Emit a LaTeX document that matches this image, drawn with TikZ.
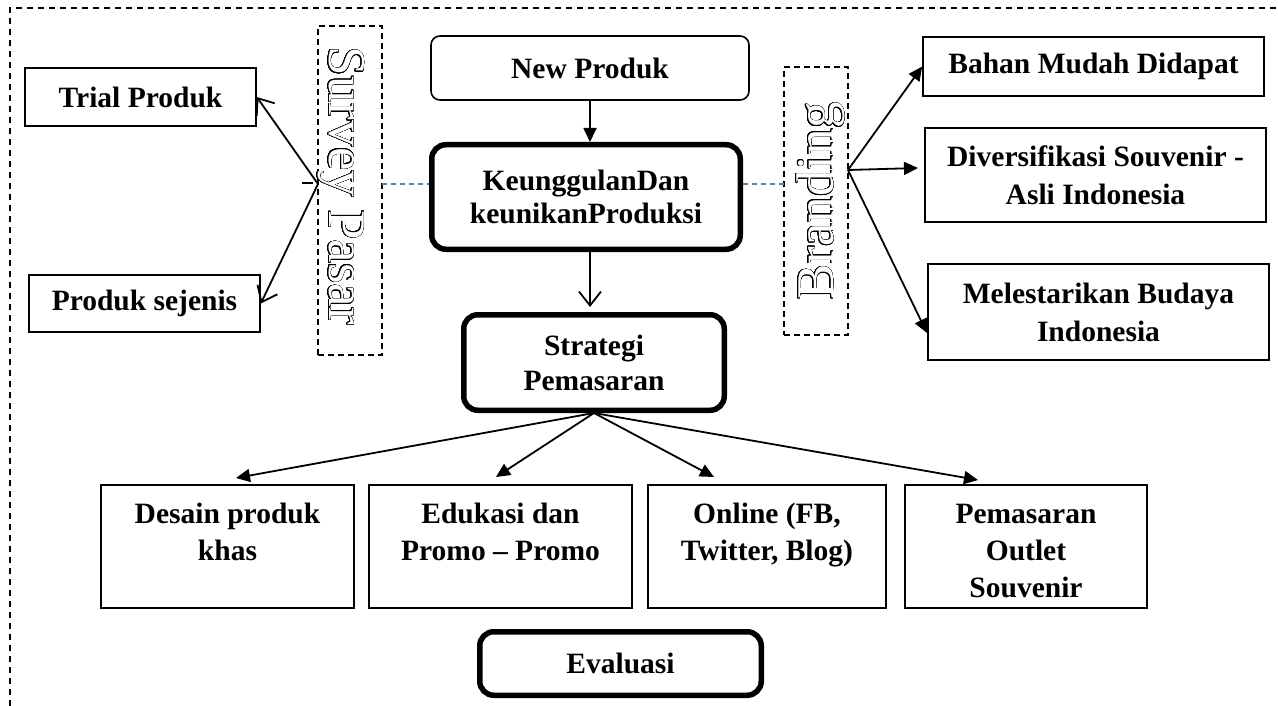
\documentclass[tikz,border=0pt]{standalone}
\usepackage{fontspec}
\setmainfont{Liberation Serif}
\usepackage{contour}
\contourlength{0.45pt}
\contournumber{32}
\usetikzlibrary{arrows.meta,calc}
\definecolor{dashblue}{HTML}{4F81BD}
\begin{document}
\begin{tikzpicture}[x=1pt,y=-1pt,
  lbl/.style={font=\bfseries\fontsize{29.5}{37}\selectfont, align=center},
  rbox/.style={draw, line width=1.6pt, inner sep=0pt, lbl},
  thinround/.style={rbox, rounded corners=9pt},
  thickround/.style={draw, line width=5.5pt, rounded corners=14pt, inner sep=0pt, lbl},
  dbox/.style={draw, line width=1.4pt, dash pattern=on 6pt off 4pt, inner sep=0pt},
  outl/.style={text=white, font=\fontsize{53}{60}\selectfont, inner sep=0pt},
  openarr/.style={line width=1.8pt, -{Straight Barb[length=14pt,width=22pt,line width=1.8pt]}},
  fillarr/.style={line width=1.8pt, -{Triangle[length=14pt,width=13pt]}},
  bluedash/.style={dashblue, line width=1.3pt, dash pattern=on 5pt off 4pt},
  frame/.style={line width=1.5pt, dash pattern=on 6pt off 5pt}
]
\useasboundingbox (0,0) rectangle (1278,706);
% outer frame (only top and left edges are visible)
\draw[frame] (10,706) -- (10,8) -- (1278,8);

% centre column
\node[thinround, minimum width=318pt, minimum height=64pt] (newp) at (590,68) {New Produk};
\node[thickround, minimum width=308.5pt, minimum height=104.5pt, font=\bfseries\fontsize{29.5}{33}\selectfont] (keung) at (586,197) {KeunggulanDan\\keunikanProduksi};
\node[thickround, minimum width=260.5pt, minimum height=95.5pt, font=\bfseries\fontsize{29.5}{35}\selectfont] (strat) at (594,362.5) {Strategi\\Pemasaran};
\node[thickround, minimum width=281.5pt, minimum height=63.5pt] (evalu) at (620.5,663.5) {Evaluasi};

% left side
\node[rbox, minimum width=231pt, minimum height=58pt] (trial) at (140.5,97) {Trial Produk};
\node[rbox, minimum width=231pt, minimum height=57pt] (sejenis) at (144.5,303.5) {Produk sejenis};
\node[dbox, minimum width=64pt, minimum height=329pt] (spbox) at (350,190.5) {};
\node[outl, rotate=-90, anchor=base] (sptext) at (329,186) {\contour{black}{Survey Pasar}};

% right side
\node[dbox, minimum width=64pt, minimum height=268pt] (brbox) at (816,201) {};
\node[outl, rotate=90, anchor=base] (brtext) at (833,201) {\contour{black}{Branding}};
\node[rbox, minimum width=341pt, minimum height=59pt] (bahan) at (1093.5,66.5) {Bahan Mudah Didapat};
\node[rbox, minimum width=341pt, minimum height=94pt, font=\bfseries\fontsize{29.5}{38}\selectfont] (divers) at (1095.5,175) {Diversifikasi Souvenir -\\Asli Indonesia};
\node[rbox, minimum width=341pt, minimum height=96pt, font=\bfseries\fontsize{29.5}{38}\selectfont] (melest) at (1098.5,312) {Melestarikan Budaya\\Indonesia};

% bottom row
\node[rbox, minimum width=253pt, minimum height=123pt] (desain) at (227.5,546.5) {};
\node[rbox, minimum width=263pt, minimum height=123pt] (eduk) at (500.5,546.5) {};
\node[rbox, minimum width=238pt, minimum height=123pt] (online) at (767,546.5) {};
\node[rbox, minimum width=242pt, minimum height=123pt] (pemas) at (1026,546.5) {};
\node[lbl, anchor=base, inner sep=0pt] (desainT) at (227.5,560) {Desain produk\\khas};
\node[lbl, anchor=base, inner sep=0pt] (edukT) at (500.5,560) {Edukasi dan\\Promo – Promo};
\node[lbl, anchor=base, inner sep=0pt] (onlineT) at (767,560) {Online (FB,\\Twitter, Blog)};
\node[lbl, anchor=base, inner sep=0pt] (pemasT) at (1026,597) {Pemasaran\\Outlet\\Souvenir};

% coordinates
\coordinate (spo) at (318,184);
\coordinate (tk1) at (302,183);
\coordinate (tk2) at (313,183);
\coordinate (bro) at (848,170);
\coordinate (bl1) at (382,184);
\coordinate (bl2) at (784,184);
\coordinate (dvt) at (918,168);
\coordinate (mlt) at (927,333);
\coordinate (st) at (590,307);
\coordinate (t1) at (236,478);
\coordinate (t2) at (496,477);
\coordinate (t3) at (714,477);
\coordinate (t4) at (978,480);

% connectors
\draw[fillarr] (newp.south) -- (newp.south |- keung.north);
\draw[openarr] (newp.south |- keung.south) -- (st);
\draw[openarr] (spo) -- (trial.east);
\draw[openarr] (spo) -- (sejenis.east);
\draw[line width=2pt] (tk1) -- (tk2);
\draw[bluedash] (bl1) -- (bl1 -| keung.west);
\draw[bluedash] (bl2 -| keung.east) -- (bl2);
\draw[fillarr] (bro) -- (bahan.west);
\draw[fillarr] (bro) -- (dvt);
\draw[fillarr] (bro) -- (mlt);
\draw[fillarr] (strat.south) -- (t1);
\draw[fillarr] (strat.south) -- (t2);
\draw[fillarr] (strat.south) -- (t3);
\draw[fillarr] (strat.south) -- (t4);
\end{tikzpicture}
\end{document}
